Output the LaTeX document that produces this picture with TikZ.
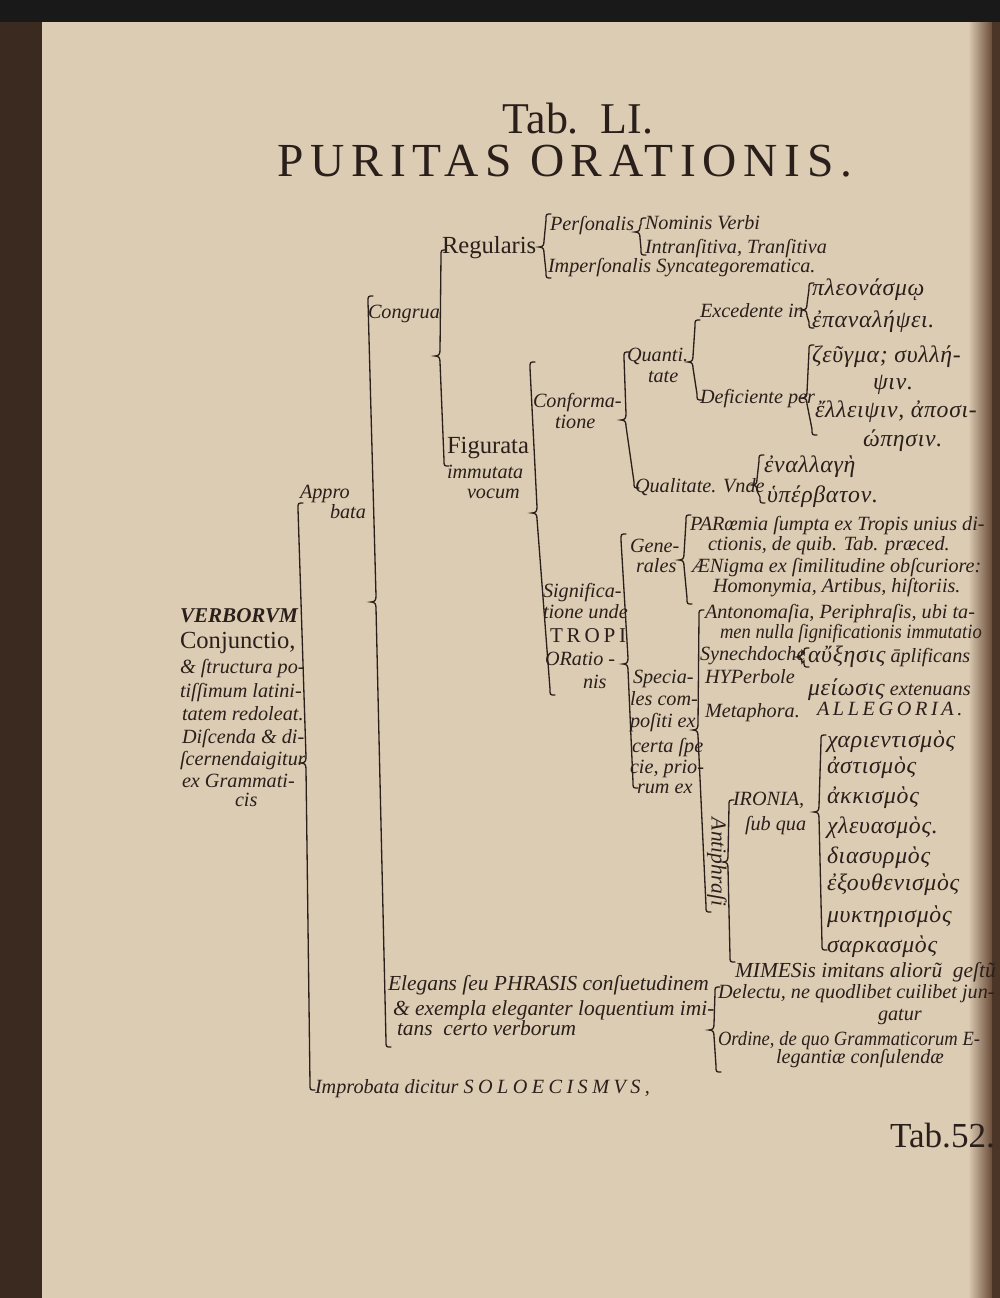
\documentclass[tikz,border=0pt]{standalone}
\usepackage{fontspec}
\setmainfont{Liberation Serif}
\newfontfamily\grk{Liberation Serif}[LetterSpace=3]
\definecolor{ink}{HTML}{2A1F1A}
\definecolor{page}{HTML}{DCCCB4}
\definecolor{edge}{HTML}{3B2A1F}
\definecolor{fold}{HTML}{6A4C38}
\newcommand\itf{\fontsize{11.5pt}{13pt}\selectfont\itshape}
\newcommand\itl{\fontsize{12.2pt}{14pt}\selectfont\itshape}
\newcommand\rmf{\fontsize{14pt}{16pt}\selectfont\upshape}
\newcommand\grf{\grk\fontsize{13.5pt}{15pt}\selectfont\itshape}
\newcommand\capsp{\addfontfeature{LetterSpace=18}}
\newcommand\cond{\addfontfeature{FakeStretch=0.92}}
% brace: xtop, top, xcusp, cusp, xbottom, bottom
\newcommand\brc[6]{%
 \draw[braceline] ({#1+5},#2) .. controls (#1,#2) .. (#1,{#2+6}) -- (#3,{#4-6})
  .. controls (#3,{#4-2}) and ({#3-1},#4) .. ({#3-5},#4)
  .. controls ({#3-1},#4) and (#3,{#4+2}) .. (#3,{#4+6}) -- (#5,{#6-6})
  .. controls (#5,#6) .. ({#5+5},#6);}
\begin{document}
\begin{tikzpicture}[x=0.02cm,y=-0.02cm,
  braceline/.style={draw=ink,line width=0.75pt,line cap=round},
  every node/.style={inner sep=0pt,outer sep=0pt,text=ink},
  txt/.style={anchor=base west,font=\itf},
  txl/.style={anchor=base west,font=\itl},
  rom/.style={anchor=base west,font=\rmf},
  grl/.style={anchor=base west,font=\grf}]
\useasboundingbox (0,0) rectangle (1000,1298);
% page
\fill[edge] (0,0) rectangle (1000,1298);
\fill[page] (42,22) rectangle (1000,1298);
\shade[left color=page,right color=fold] (968,22) rectangle (992,1298);
\fill[fold!70!black] (992,22) rectangle (1000,1298);
\fill[black!90] (0,0) rectangle (1000,22);
% title
\node[anchor=base,font=\fontsize{25pt}{27pt}\selectfont] (tab) at (578,133) {Tab.\ \ LI.};
\node[anchor=base,font=\fontsize{27pt}{29pt}\selectfont\addfontfeature{LetterSpace=14}] (titl) at (565,176) {PURITAS ORATIONIS.};
% root
\node[anchor=base west,font=\fontsize{12pt}{14pt}\selectfont\bfseries\itshape] (verborum) at (180,622) {VERBORVM};
\node[rom] (conj) at (180,648) {Conjunctio,};
\node[txt] (r1) at (180,673) {\& ſtructura po-};
\node[txt] (r2) at (180,697) {tiſſimum latini-};
\node[txt] (r3) at (182,720) {tatem redoleat.};
\node[txt] (r4) at (182,743) {Diſcenda \& di-};
\node[txt] (r5) at (180,765) {ſcernendaigitur};
\node[txt] (r6) at (182,787) {ex Grammati-};
\node[txt] (r7) at (235,806) {cis};
% level 1-2
\node[txt] (appro) at (300,498) {Appro};
\node[txt] (bata) at (330,518) {bata};
\node[txt] (congrua) at (368,318) {Congrua};
\node[rom] (regularis) at (442,253) {Regularis};
\node[txt] (personalis) at (550,230) {Perſonalis};
\node[txt] (nominis) at (645,229) {Nominis Verbi};
\node[txt] (intrans) at (645,253) {Intranſitiva, Tranſitiva};
\node[txt] (imperso) at (548,272) {Imperſonalis Syncategorematica.};
\node[rom] (figurata) at (447,453) {Figurata};
\node[txt] (immutata) at (447,478) {immutata};
\node[txt] (vocum) at (467,498) {vocum};
% conformatione
\node[txt] (conforma) at (533,407) {Conforma-};
\node[txt] (tione) at (555,428) {tione};
\node[txt] (quanti) at (627,361) {Quanti.};
\node[txt] (tate) at (648,382) {tate};
\node[txt] (excedente) at (700,317) {Excedente in};
\node[grl] (pleon) at (812,295) {πλεονάσμῳ};
\node[grl] (epanal) at (812,327) {ἐπαναλήψει.};
\node[grl] (zeugma) at (812,362) {ζεῦγμα; συλλή-};
\node[grl] (psin) at (873,389) {ψιν.};
\node[txt] (deficiente) at (700,403) {Deficiente per};
\node[grl] (ellipsin) at (815,417) {ἔλλειψιν, ἀποσι-};
\node[grl] (opesin) at (863,446) {ώπησιν.};
\node[txt] (qualitate) at (635,492) {Qualitate. Vnde};
\node[grl] (enallage) at (764,472) {ἐναλλαγὴ};
\node[grl] (hyperbaton) at (767,502) {ὑπέρβατον.};
% significatione
\node[txt] (signif) at (543,597) {Significa-};
\node[txt] (tione2) at (543,618) {tione unde};
\node[anchor=base west,font=\fontsize{12pt}{14pt}\selectfont\addfontfeature{LetterSpace=18}] (tropi) at (550,642) {TROPI};
\node[txt] (oratio) at (545,665) {ORatio -};
\node[txt] (nis) at (583,688) {nis};
\node[txt] (gene) at (630,552) {Gene-};
\node[txt] (rales) at (636,572) {rales};
\node[txt] (paroem) at (690,530) {PARœmia ſumpta ex Tropis unius di-};
\node[txt] (ctionis) at (708,550) {ctionis, de quib. Tab. præced.};
\node[txt] (aenig) at (692,572) {ÆNigma ex ſimilitudine obſcuriore:};
\node[txt] (homon) at (713,592) {Homonymia, Artibus, hiſtoriis.};
\node[txt] (antonom) at (705,618) {Antonomaſia, Periphraſis, ubi ta-};
\node[txt,font=\itf\cond] (men) at (720,638) {men nulla ſignificationis immutatio};
\node[txt] (synech) at (700,660) {Synechdoche};
\node[txt] (auxesis) at (808,662) {{\grf αὔξησις} āplificans};
\node[txt] (specia) at (633,683) {Specia-};
\node[txt] (hyperb) at (705,683) {HYPerbole};
\node[txt] (meiosis) at (808,695) {{\grf μείωσις} extenuans};
\node[txt] (lescom) at (630,705) {les com-};
\node[txt] (metaph) at (705,717) {Metaphora.};
\node[txt,font=\itf\capsp] (alleg) at (817,715) {ALLEGORIA.};
\node[txt] (positi) at (630,727) {poſiti ex};
\node[txt] (certa) at (632,752) {certa ſpe};
\node[txt] (cie) at (630,773) {cie, prio-};
\node[txt] (rum) at (637,793) {rum ex};
% ironia
\node[anchor=center,rotate=-90,font=\itl] (antiphr) at (717,862) {Antiphraſi};
\node[txt] (ironia) at (733,805) {IRONIA,};
\node[txt] (subqua) at (745,830) {ſub qua};
\node[grl] (chari) at (827,747) {χαριεντισμὸς};
\node[grl] (asti) at (827,773) {ἀστισμὸς};
\node[grl] (akki) at (827,803) {ἀκκισμὸς};
\node[grl] (chleu) at (827,833) {χλευασμὸς.};
\node[grl] (diasy) at (827,863) {διασυρμὸς};
\node[grl] (exou) at (827,890) {ἐξουθενισμὸς};
\node[grl] (mykt) at (827,922) {μυκτηρισμὸς};
\node[grl] (sark) at (827,952) {σαρκασμὸς};
\node[txl] (mimesis) at (735,977) {MIMESis imitans aliorũ \ geſtũ};
% elegans
\node[txl] (elegans) at (388,990) {Elegans ſeu PHRASIS conſuetudinem};
\node[txt] (delectu) at (718,998) {Delectu, ne quodlibet cuilibet jun-};
\node[txl] (exempla) at (393,1015) {\& exempla eleganter loquentium imi-};
\node[txt] (gatur) at (878,1020) {gatur};
\node[txl] (tans) at (397,1035) {tans \ certo verborum};
\node[txt,font=\itf\cond] (ordine) at (718,1045) {Ordine, de quo Grammaticorum E-};
\node[txt] (legantiae) at (776,1063) {legantiæ conſulendæ};
\node[txt] (improb) at (315,1093) {Improbata dicitur {\addfontfeature{LetterSpace=22}SOLOECISMVS,}};
\node[anchor=base west,font=\fontsize{20pt}{22pt}\selectfont] (tab52) at (890,1147) {Tab.52.};
% braces
\brc{298}{503}{306}{763}{310}{1090}
\brc{368}{296}{376}{602}{386}{1047}
\brc{441}{250}{440}{356}{444}{466}
\brc{546}{214}{544}{247}{546}{278}
\brc{641}{218}{640}{232}{641}{255}
\brc{809}{283}{807}{310}{809}{328}
\brc{695}{320}{693}{362}{697}{400}
\brc{809}{345}{807}{398}{812}{435}
\brc{624}{352}{626}{420}{634}{488}
\brc{530}{362}{537}{513}{550}{695}
\brc{759}{455}{757}{485}{760}{503}
\brc{621}{534}{628}{664}{633}{788}
\brc{686}{515}{684}{560}{687}{604}
\brc{699}{610}{698}{730}{706}{912}
\brc{729}{800}{728}{862}{730}{962}
\brc{821}{735}{819}{812}{822}{950}
\brc{804}{648}{802}{657}{804}{667}
\brc{715}{987}{714}{1030}{716}{1072}
\end{tikzpicture}
\end{document}
